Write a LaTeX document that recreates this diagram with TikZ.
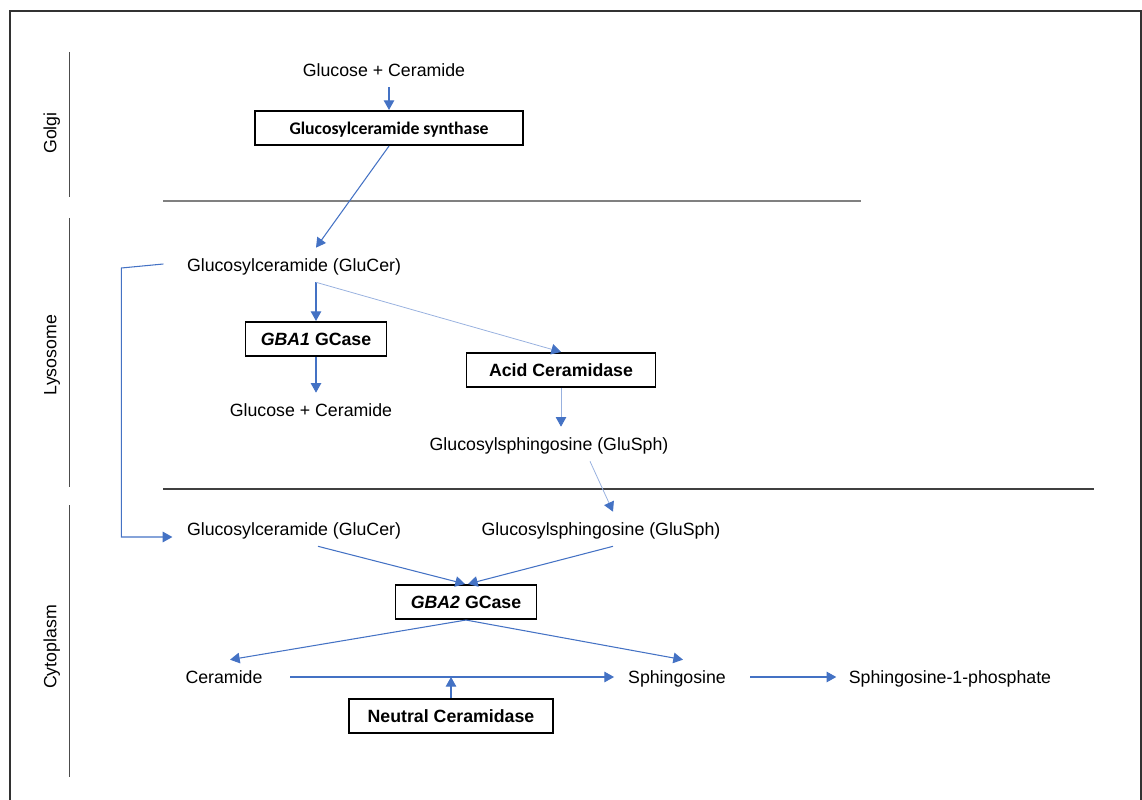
\documentclass[tikz,border=0pt]{standalone}
\usepackage{fontspec}
\setmainfont{Liberation Sans}
\newfontfamily\calibri{Carlito}
\usetikzlibrary{arrows.meta}
\definecolor{arrowBlue}{RGB}{68,114,196}
\definecolor{frameGray}{RGB}{50,50,50}

\begin{document}
\begin{tikzpicture}[
    x=0.02cm, y=-0.02cm,
    every node/.style={
        font=\fontsize{10.1}{12}\selectfont,
        text height=0.83em, text depth=0.10em,
        inner ysep=5pt, inner xsep=3pt,
        },
    enzyme/.style={draw, line width=0.9pt, font=\fontsize{10.1}{12}\selectfont\bfseries,
        inner sep=0pt, minimum height=0.69cm},
    arr/.style={-{Triangle[width=6pt,length=5.5pt]}, line width=0.6pt, draw=arrowBlue},
    faint/.style={-{Triangle[width=6pt,length=5.5pt,color=arrowBlue]}, line width=0.45pt, draw=arrowBlue!55},
    region/.style={draw=black!70, line width=0.5pt},
    ]
    \useasboundingbox (0,0) rectangle (1142,800);
    \clip (0,0) rectangle (1142,800);

    % frame and compartments
    \draw[frameGray, line width=1.1pt] (10,820) -- (10,11) -- (1141,11) -- (1141,820);
    \draw[region] (69,52) -- (69,197);
    \draw[region] (69,218) -- (69,487);
    \draw[region] (69,505) -- (69,777);
    \draw[draw=black!50, line width=0.6pt] (163,201) -- (861,201);
    \draw[draw=black!75, line width=0.6pt] (163,489) -- (1094,489);

    \node[rotate=90] (golgi) at (50,133) {Golgi};
    \node[rotate=90] (lyso) at (50,355) {Lysosome};
    \node[rotate=90] (cyto) at (50,647) {Cytoplasm};

    % Golgi
    \node (glcT) at (384,70) {Glucose + Ceramide};
    \node[enzyme, minimum width=5.36cm, font=\fontsize{10.1}{12}\selectfont\calibri\bfseries] (synth) at (389,128) {Glucosylceramide synthase};

    % Lysosome
    \node (gluL) at (294,265) {Glucosylceramide (GluCer)};
    \node[enzyme, minimum width=2.82cm] (gba1) at (316,339) {\textit{GBA1} GCase};
    \node (glcL) at (311,410) {Glucose + Ceramide};
    \node[enzyme, minimum width=3.78cm] (acid) at (561,370) {Acid Ceramidase};
    \node (sphL) at (549,444) {Glucosylsphingosine (GluSph)};

    % Cytoplasm
    \node (gluC) at (294,529) {Glucosylceramide (GluCer)};
    \node (sphC) at (601,529) {Glucosylsphingosine (GluSph)};
    \node[enzyme, minimum width=2.82cm] (gba2) at (466,602) {\textit{GBA2} GCase};
    \node (cer) at (224,677) {Ceramide};
    \node (sph) at (677,677) {Sphingosine};
    \node (s1p) at (950,677) {Sphingosine-1-phosphate};
    \node[enzyme, minimum width=4.08cm] (neut) at (451,716) {Neutral Ceramidase};

    % connectors
    \draw[arr] (synth.north |- glcT.south) -- (synth.north);
    \draw[arr] (synth.south) -- (gluL.north -| gba1.north);
    \draw[arr] (gluL.south -| gba1.north) -- (gba1.north);
    \draw[faint] (gluL.south -| gba1.north) -- (acid.north);
    \draw[arr] (gba1.south) -- (glcL.north -| gba1.south);
    \draw[faint] (acid.south) -- (sphL.north -| acid.south);
    \draw[faint] ([xshift=0.82cm]sphL.south) -- ([xshift=0.24cm]sphC.north);
    \draw[arr] (gluL.west) ++(-18,-1) -- ++(-42,4) -- ++(0,269) -- ++(51,0);

    \draw[arr] ([xshift=0.48cm]gluC.south) -- ([xshift=-0.02cm]gba2.north);
    \draw[arr] ([xshift=0.24cm]sphC.south) -- ([xshift=0.04cm]gba2.north);
    \draw[arr] (gba2.south) -- ([xshift=0.12cm]cer.north);
    \draw[arr] (gba2.south) -- ([xshift=0.12cm]sph.north);
    \draw[arr] ([xshift=0.44cm]cer.east) -- ([xshift=-0.17cm]sph.west);
    \draw[arr] (neut.north) -- (neut.north |- cer.east);
    \draw[arr] ([xshift=0.38cm]sph.east) -- ([xshift=-0.14cm]s1p.west);
\end{tikzpicture}
\end{document}
